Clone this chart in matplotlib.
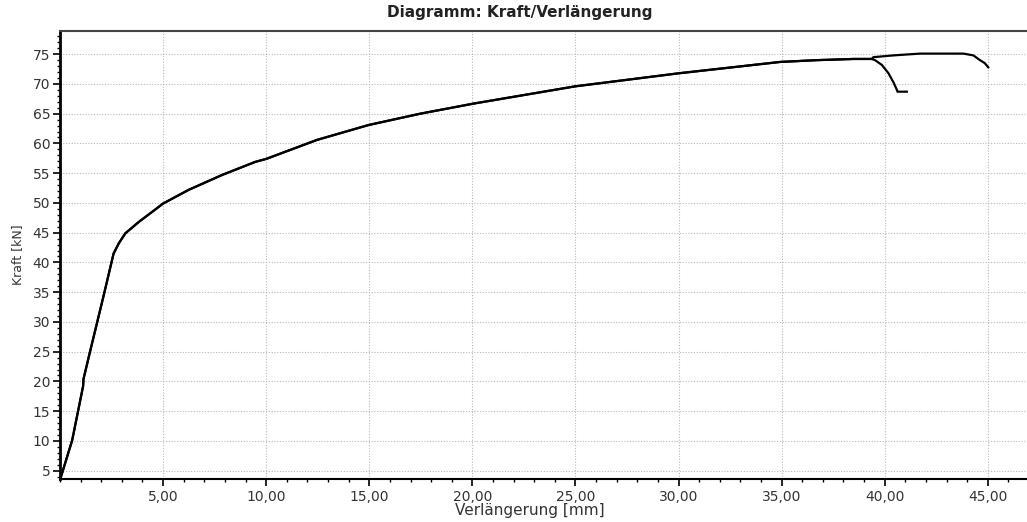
import numpy as np
import matplotlib
matplotlib.use('Agg')
import matplotlib.pyplot as plt
from matplotlib.ticker import MultipleLocator, FuncFormatter

# common part of both test curves (elongation mm, force kN)
common_x = [0.05, 0.59, 1.12, 1.14, 1.47, 1.80, 2.17, 2.49, 2.60, 2.85, 3.17, 3.82, 4.47,
            5.00, 6.24, 7.86, 9.47, 10.0, 12.47, 14.97, 17.47, 20.06, 24.99, 30.03,
            34.93, 36.71, 38.48, 39.37]
common_y = [4.0, 10.1, 19.2, 20.4, 25.2, 29.9, 35.2, 39.9, 41.5, 43.2, 44.9, 46.8, 48.5,
            49.9, 52.2, 54.7, 56.9, 57.4, 60.6, 63.1, 65.0, 66.7, 69.6, 71.8,
            73.7, 74.0, 74.2, 74.2]

# specimen 1 tail (breaks early)
tail1_x = [39.53, 39.86, 40.18, 40.42, 40.59, 40.62, 41.07]
tail1_y = [74.0, 73.2, 71.8, 70.3, 69.0, 68.7, 68.7]

# specimen 2 tail
tail2_x = [39.45, 40.42, 41.71, 43.82, 44.30, 44.62, 44.85, 45.02]
tail2_y = [74.5, 74.8, 75.1, 75.1, 74.8, 74.0, 73.5, 72.8]

x_ticks = [5, 10, 15, 20, 25, 30, 35, 40, 45]
y_ticks = [5, 10, 15, 20, 25, 30, 35, 40, 45, 50, 55, 60, 65, 70, 75]

fig = plt.figure(figsize=(10.27, 5.22), dpi=100)
ax = fig.add_axes([60 / 1027, 1 - 479 / 522, 1 - 60 / 1027, (479 - 31) / 522])

ax.plot(common_x + tail1_x, common_y + tail1_y, color='black', lw=1.6)
ax.plot(common_x + tail2_x, common_y + tail2_y, color='black', lw=1.6)

ax.set_xlim(0, 46.9)
ax.set_ylim(3.6, 78.9)

ax.set_xticks(x_ticks)
ax.set_yticks(y_ticks)
ax.xaxis.set_major_formatter(FuncFormatter(lambda v, p: ('%.2f' % v).replace('.', ',')))
ax.xaxis.set_minor_locator(MultipleLocator(1))
ax.yaxis.set_minor_locator(MultipleLocator(1))

ax.grid(True, which='major', linestyle=(0, (1, 1.5)), color='#b8b8b8', lw=0.8)

ax.tick_params(axis='both', which='major', direction='out', length=5, width=1.2,
               labelsize=10, labelcolor='#333333', pad=2)
ax.tick_params(axis='both', which='minor', direction='out', length=2.5, width=1)
ax.tick_params(axis='x', pad=3)

ax.spines['left'].set_linewidth(2.0)
ax.spines['bottom'].set_linewidth(1.5)
ax.spines['top'].set_linewidth(1.5)
ax.spines['top'].set_color('#444444')
ax.spines['right'].set_visible(False)

ax.set_xlabel('Verlängerung [mm]', fontsize=11, color='#333333')
ax.xaxis.set_label_coords((530 - 60) / (1027 - 60), -(511 - 479) / (479 - 31), transform=ax.transAxes)
ax.xaxis.label.set_va('center')
ax.set_ylabel('Kraft [kN]', fontsize=9, color='#333333', labelpad=6)

fig.text(520 / 1027, 1 - 12 / 522, 'Diagramm: Kraft/Verlängerung', ha='center', va='center',
         fontsize=11, fontweight='bold', color='#222222')

fig.savefig('out.png', dpi=100)
